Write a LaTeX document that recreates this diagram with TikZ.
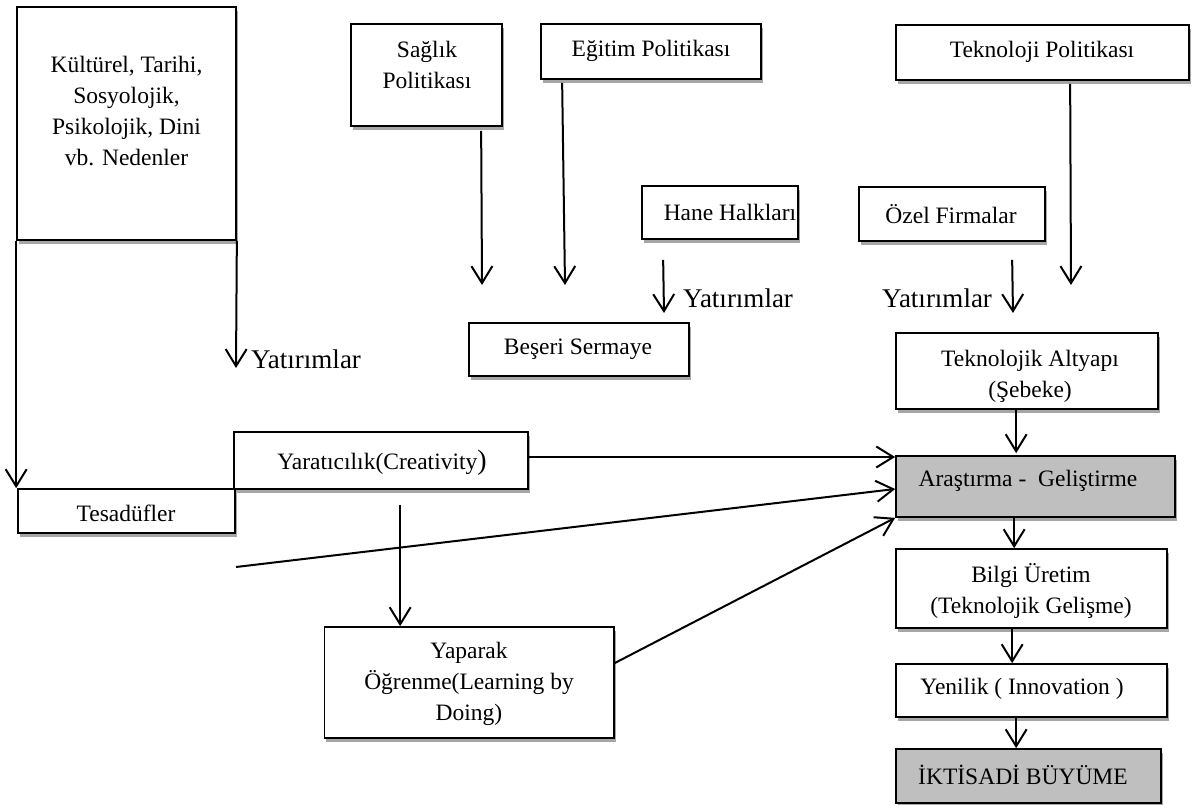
\documentclass[tikz,border=0pt]{standalone}
\usepackage{fontspec}
\setmainfont{Liberation Serif}
\usetikzlibrary{arrows.meta,fit,shadows}
\begin{document}
\begin{tikzpicture}[x=1pt,y=-1pt,
  box/.style={draw, line width=1.7pt, fill=white, inner sep=0pt,
    general shadow={fill=black!35, shadow xshift=1.5pt, shadow yshift=-4pt}},
  greybox/.style={box, fill=black!25},
  txt/.style={align=center, inner sep=0pt, font=\fontsize{23.5}{31}\selectfont},
  lbl/.style={inner sep=0pt, font=\fontsize{27}{32}\selectfont},
  ln/.style={line width=2pt},
  arr/.style={ln, -{Straight Barb[length=17pt,width=21pt]}}]
\useasboundingbox (0,0) rectangle (1192,805);

% boxes
\node[box, fit={(17,7) (236,240)}] (kult) {};
\node[box, fit={(18,489) (235,533)}] (tes) {};
\node[box, fit={(234,432) (528,489)}] (yar) {};
\node[box, fit={(351,24) (502,126)}] (sag) {};
\node[box, fit={(541,24) (761,79)}] (egi) {};
\node[box, fit={(642,186) (798,239)}] (hane) {};
\node[box, fit={(469,323) (689,376)}] (bes) {};
\node[box, fit={(896,25) (1189,80)}] (tek) {};
\node[box, fit={(859,187) (1045,241)}] (ozel) {};
\node[box, fit={(896,333) (1158,409)}] (alt) {};
\node[greybox, fit={(896,456) (1175,517)}] (arge) {};
\node[box, fit={(324.5,627) (614,738)}] (yap) {};
\node[box, fit={(896,549) (1167,628)}] (bilgi) {};
\node[box, fit={(896,664) (1167,717)}] (yen) {};
\node[greybox, fit={(896,749) (1161,803)}] (ikt) {};

% box texts
\node[txt] (kult-t) at (126.5,111) {Kültürel, Tarihi,\\Sosyolojik,\\Psikolojik, Dini\\vb. Nedenler};
\node[txt] (tes-t) at (126,513) {Tesadüfler};
\node[txt] (yar-t) at (382,463) {Yaratıcılık(Creativity{\fontsize{28}{30}\selectfont)}};
\node[txt] (sag-t) at (427,65) {Sağlık\\Politikası};
\node[txt] (egi-t) at (651,51) {Eğitim Politikası};
\node[txt] (hane-t) at (730,212) {Hane Halkları};
\node[txt] (bes-t) at (578,349) {Beşeri Sermaye};
\node[txt] (tek-t) at (1042,52) {Teknoloji Politikası};
\node[txt] (ozel-t) at (951,214) {Özel Firmalar};
\node[txt] (alt-t) at (1030,376) {Teknolojik Altyapı\\(Şebeke)};
\node[txt] (arge-t) at (1028,481) {Araştırma -\ \ Geliştirme};
\node[txt] (yap-t) at (469,684) {Yaparak\\Öğrenme(Learning by\\Doing)};
\node[txt] (bilgi-t) at (1031,591) {Bilgi Üretim\\(Teknolojik Gelişme)};
\node[txt] (yen-t) at (1022,689) {Yenilik ( Innovation )};
\node[txt] (ikt-t) at (1023,775) {İKTİSADİ BÜYÜME};

% free arrow ends
\coordinate (kultE) at (236,368);
\coordinate (sagE) at (482,285);
\coordinate (egiE) at (565,285);
\coordinate (haneE) at (664,313);
\coordinate (tekE) at (1071,285);
\coordinate (ozelE) at (1013,313);
\coordinate (accS) at (236,567);

% investment labels
\node[lbl, anchor=base west] (inv1) at (251,368) {Yatırımlar};
\node[lbl, anchor=base west] (inv2) at (683,308) {Yatırımlar};
\node[lbl, anchor=base west] (inv3) at (882,308) {Yatırımlar};

% connectors
\draw[arr] (kult.south west) -- (kult.south west |- tes.north);
\draw[arr] (kult.south east) -- (kultE);
\draw[arr] ([xshift=131pt,yshift=-4pt]sag.south west) -- (sagE);
\draw[arr] ([xshift=22pt,yshift=-3pt]egi.south west) -- (egiE);
\draw[arr] ([xshift=22pt,yshift=-20pt]hane.south west) -- (haneE);
\draw[arr] ([xshift=175pt,yshift=-3pt]tek.south west) -- (tekE);
\draw[arr] ([xshift=154pt,yshift=-18pt]ozel.south west) -- (ozelE);
\draw[arr] ([xshift=121pt]alt.south west) -- ([xshift=121pt,yshift=2pt]arge.north west);
\draw[arr] ([xshift=119pt]arge.south west) -- ([xshift=119pt]bilgi.north west);
\draw[arr] ([xshift=117pt]bilgi.south west) -- ([xshift=117pt]yen.north west);
\draw[arr] ([xshift=121pt]yen.south west) -- ([xshift=121pt]ikt.north west);
\draw[arr] ([yshift=3.5pt]yar.east) -- ([yshift=3.5pt]yar.east -| arge.west);
\draw[arr] (accS) -- ([yshift=-2.5pt]arge.west);
\draw[arr] ([yshift=19.5pt]yap.east) -- (arge.south west);
\draw[arr] ([xshift=167pt,yshift=-15pt]yar.south west) -- ([xshift=76.5pt]yap.north west);
\end{tikzpicture}
\end{document}
